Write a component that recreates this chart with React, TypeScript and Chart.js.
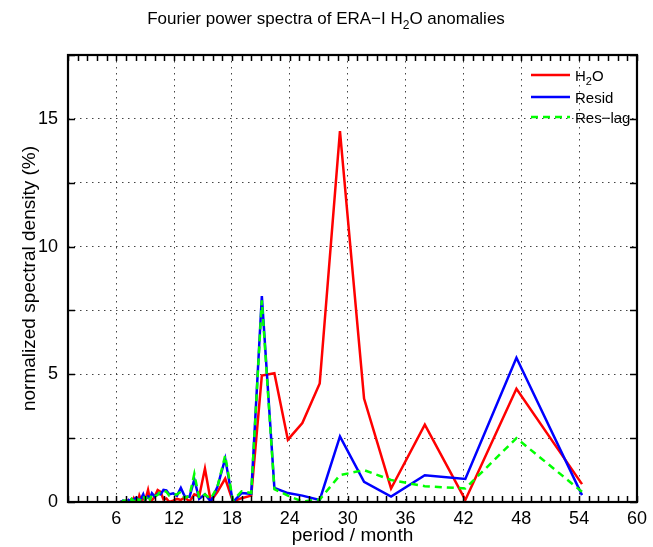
import React, { useEffect, useRef } from 'react';
import { Chart, registerables } from 'chart.js';

Chart.register(...registerables);

// Fourier periods (months) of the spectral estimates
const periods = [54.3, 47.5, 42.2, 38.0, 34.5, 31.7, 29.2, 27.1, 25.3, 23.8, 22.4, 21.1, 20.0, 19.0, 18.1, 17.3, 16.5, 15.8, 15.2, 14.6, 14.1, 13.6, 13.1, 12.7, 12.3, 11.9, 11.5, 11.2, 10.9, 10.6, 10.3, 10.0, 9.7, 9.5, 9.3, 9.0, 8.8, 8.6, 8.4, 8.3, 8.1, 7.9, 7.8, 7.6, 7.5, 7.3, 7.2, 7.0, 6.9, 6.8, 6.7, 6.55, 6.4];

const h2o = [0.70, 4.43, 0.08, 3.03, 0.53, 4.05, 14.52, 4.64, 3.09, 2.44, 5.04, 4.95, 0.25, 0.15, 0.02, 0.92, 0.40, 0.03, 1.31, 0.22, 0.30, 0.02, 0.18, 0.08, 0.12, 0.05, 0.0, 0.14, 0.10, 0.40, 0.47, 0.22, 0.06, 0.10, 0.47, 0.05, 0.15, 0.05, 0.25, 0.08, 0.0, 0.04, 0.15, 0.02, 0.08, 0.0, 0.05, 0.01, 0.04, 0.02, 0.0, 0.02, 0.0];

const resid = [0.27, 5.65, 0.90, 1.05, 0.21, 0.79, 2.57, 0.08, 0.25, 0.35, 0.55, 8.06, 0.32, 0.35, 0.0, 1.70, 0.60, 0.02, 0.30, 0.12, 0.88, 0.20, 0.22, 0.55, 0.25, 0.34, 0.30, 0.45, 0.47, 0.30, 0.32, 0.20, 0.34, 0.15, 0.22, 0.08, 0.30, 0.15, 0.02, 0.08, 0.18, 0.12, 0.05, 0.10, 0.03, 0.08, 0.02, 0.04, 0.0, 0.02, 0.05, 0.0, 0.02];

const resLag = [0.40, 2.50, 0.53, 0.62, 0.86, 1.25, 1.05, 0.10, 0.02, 0.25, 0.50, 7.90, 0.35, 0.42, 0.05, 1.82, 0.60, 0.12, 0.30, 0.15, 1.10, 0.25, 0.15, 0.40, 0.30, 0.28, 0.25, 0.40, 0.45, 0.42, 0.28, 0.22, 0.30, 0.08, 0.28, 0.10, 0.25, 0.20, 0.02, 0.05, 0.20, 0.10, 0.03, 0.12, 0.05, 0.10, 0.0, 0.05, 0.02, 0.06, 0.04, 0.0, 0.03];

const xTicks = [6, 12, 18, 24, 30, 36, 42, 48, 54, 60];
const yTicks = [0, 2.5, 5, 7.5, 10, 12.5, 15, 17.5];
const yLabelled = [0, 5, 10, 15];
const xMinor = Array.from({ length: 60 }, (_, i) => i + 1);

const FONT = "'Liberation Sans', Arial, Helvetica, sans-serif";

export default function App() {
  const ref = useRef<HTMLCanvasElement>(null);

  useEffect(() => {
    const canvas = ref.current!;
    const toPts = (ys: number[]) => periods.map((x, i) => ({ x, y: ys[i] }));

    const decor = {
      id: 'decor',
      afterDraw(chart: any) {
        const { ctx, chartArea: a, scales } = chart;
        const xs = scales.x;
        const ys = scales.y;
        ctx.save();
        ctx.strokeStyle = '#000';
        ctx.lineWidth = 1.5;
        ctx.setLineDash([]);
        // inward ticks on x (every month), top and bottom
        ctx.beginPath();
        for (const v of xMinor) {
          const px = Math.round(xs.getPixelForValue(v)) + 0.5;
          ctx.moveTo(px, a.bottom);
          ctx.lineTo(px, a.bottom - 6);
          ctx.moveTo(px, a.top);
          ctx.lineTo(px, a.top + 6);
        }
        for (const v of yTicks) {
          const py = Math.round(ys.getPixelForValue(v)) + 0.5;
          ctx.moveTo(a.left, py);
          ctx.lineTo(a.left + 7, py);
          ctx.moveTo(a.right, py);
          ctx.lineTo(a.right - 7, py);
        }
        ctx.stroke();
        // box
        ctx.lineWidth = 2.2;
        ctx.strokeRect(a.left, a.top, a.right - a.left, a.bottom - a.top);

        // title with subscript
        const drawSub = (parts: [string, boolean][], cx: number, y: number, size: number, align: 'center' | 'left') => {
          const big = `${size}px ${FONT}`;
          const small = `${Math.round(size * 0.7)}px ${FONT}`;
          let w = 0;
          for (const [t, sub] of parts) {
            ctx.font = sub ? small : big;
            w += ctx.measureText(t).width;
          }
          let x = align === 'center' ? cx - w / 2 : cx;
          ctx.textAlign = 'left';
          ctx.textBaseline = 'alphabetic';
          ctx.fillStyle = '#000';
          for (const [t, sub] of parts) {
            ctx.font = sub ? small : big;
            ctx.fillText(t, x, sub ? y + size * 0.3 : y);
            x += ctx.measureText(t).width;
          }
        };
        drawSub([['Fourier power spectra of ERA\u2212I H', false], ['2', true], ['O anomalies', false]], 326, 24, 17, 'center');

        // legend
        const items: { parts: [string, boolean][]; color: string; dash: number[]; y: number }[] = [
          { parts: [['H', false], ['2', true], ['O', false]], color: '#ff0000', dash: [], y: 75 },
          { parts: [['Resid', false]], color: '#0000ff', dash: [], y: 97 },
          { parts: [['Res\u2212lag', false]], color: '#00ff00', dash: [7, 5], y: 117 },
        ];
        for (const it of items) {
          ctx.beginPath();
          ctx.strokeStyle = it.color;
          ctx.lineWidth = 2.5;
          ctx.setLineDash(it.dash);
          ctx.moveTo(531, it.y);
          ctx.lineTo(570, it.y);
          ctx.stroke();
          ctx.setLineDash([]);
          drawSub(it.parts, 575, it.y + 5.5, 15, 'left');
        }
        ctx.restore();
      },
    };

    const chart = new Chart(canvas, {
      type: 'line',
      data: {
        datasets: [
          { label: 'H2O', data: toPts(h2o), borderColor: '#ff0000', borderWidth: 2.5, order: 2 },
          { label: 'Resid', data: toPts(resid), borderColor: '#0000ff', borderWidth: 2.5, order: 1 },
          { label: 'Res\u2212lag', data: toPts(resLag), borderColor: '#00ff00', borderWidth: 2.5, borderDash: [7, 5], order: 0 },
        ],
      },
      options: {
        responsive: false,
        animation: false,
        layout: { padding: { top: 55, right: 13, left: 0, bottom: 0 } },
        elements: { point: { radius: 0 }, line: { tension: 0, fill: false } },
        plugins: { legend: { display: false }, title: { display: false }, tooltip: { enabled: false } },
        scales: {
          x: {
            type: 'linear',
            min: 1,
            max: 60,
            afterBuildTicks: (s: any) => {
              s.ticks = xTicks.map((v) => ({ value: v }));
            },
            afterFit: (s: any) => {
              s.height = 45;
            },
            ticks: {
              color: '#000',
              font: { family: FONT, size: 18 },
              padding: 6,
              maxRotation: 0,
              autoSkip: false,
              callback: (v: any) => String(v),
            },
            grid: {
              drawTicks: false,
              lineWidth: 1,
              color: (c: any) => (c.tick && c.tick.value === 60 ? 'rgba(0,0,0,0)' : '#444'),
            },
            border: { display: false, dash: [1.5, 4.5] },
            title: {
              display: true,
              text: 'period / month',
              color: '#000',
              font: { family: FONT, size: 19 },
              padding: { top: 0, bottom: 0 },
            },
          },
          y: {
            type: 'linear',
            min: 0,
            max: 17.5,
            afterBuildTicks: (s: any) => {
              s.ticks = yTicks.map((v) => ({ value: v }));
            },
            afterFit: (s: any) => {
              s.width = 68;
            },
            ticks: {
              color: '#000',
              font: { family: FONT, size: 18 },
              padding: 10,
              autoSkip: false,
              callback: (v: any) => (yLabelled.includes(Number(v)) ? String(v) : ''),
            },
            grid: {
              drawTicks: false,
              lineWidth: 1,
              color: (c: any) => (c.tick && (c.tick.value === 0 || c.tick.value === 17.5) ? 'rgba(0,0,0,0)' : '#444'),
            },
            border: { display: false, dash: [1.5, 4.5] },
            title: {
              display: true,
              text: 'normalized spectral density (%)',
              color: '#000',
              font: { family: FONT, size: 19 },
              padding: { top: 18, bottom: 0 },
            },
          },
        },
      },
      plugins: [decor],
    } as any);

    return () => chart.destroy();
  }, []);

  return (
    <div style={{ position: 'fixed', left: 0, top: 0, width: 653, height: 547, background: '#fff' }}>
      <canvas ref={ref} width={653} height={547} style={{ display: 'block' }} />
    </div>
  );
}
